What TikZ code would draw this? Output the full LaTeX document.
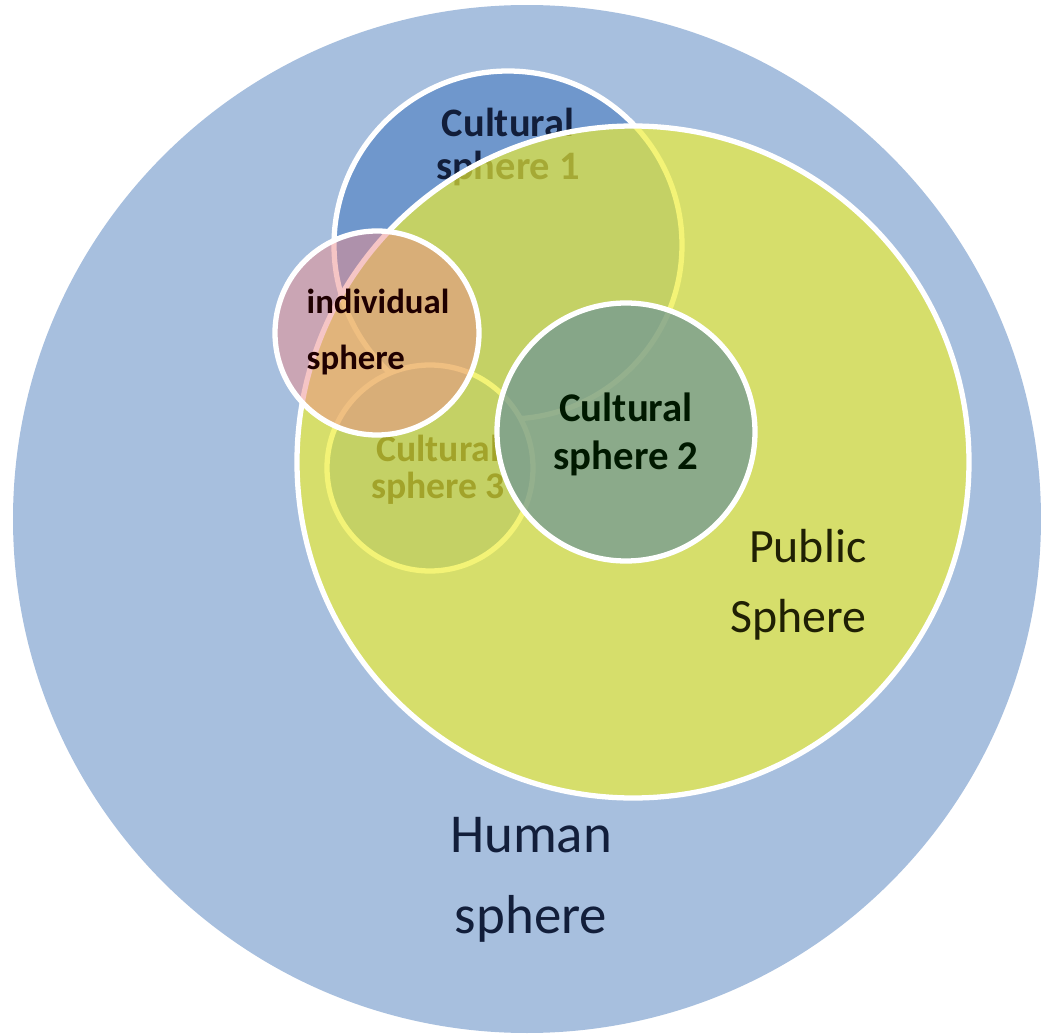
\documentclass[tikz,border=0pt]{standalone}
\usepackage{fontspec}
\setmainfont{Carlito}
\definecolor{humanblue}{RGB}{167,191,222}
\definecolor{cultblue}{RGB}{111,151,204}
\definecolor{publicyellow}{RGB}{238,238,51}
\definecolor{indivsalmon}{RGB}{237,140,140}
\definecolor{cultteal}{RGB}{108,148,152}
\definecolor{navytext}{RGB}{18,30,58}
\definecolor{darktext}{RGB}{8,12,24}
\definecolor{olivetext}{RGB}{32,32,4}
\tikzset{
  sphere/.style={draw=white, line width=1.5pt},
  lbl/.style={inner sep=0pt, align=center},
}

\begin{document}
\begin{tikzpicture}[x=0.01cm, y=-0.01cm]
	%%%%% START %%%%%
	\useasboundingbox (0,0) rectangle (1041,1036);

	% human sphere
	\draw[fill=humanblue, draw=none] (527,519) circle (514);

	% cultural spheres under the public one
	\draw[sphere, fill=cultblue] (508,245) circle (174);
	\node[lbl, text=navytext, font={\bfseries\fontsize{11.5}{12.2}\selectfont}] (cultone) at (508,147) {Cultural\\sphere 1};

	\draw[sphere, fill=cultblue] (430,468) circle (103);
	\node[lbl, text=darktext, font={\bfseries\fontsize{10.7}{10.5}\selectfont}] (cultthree) at (438,470) {Cultural\\sphere 3};

	% public sphere
	\draw[sphere, fill=publicyellow, fill opacity=0.67] (633,462) circle (336);

	% individual sphere
	\draw[sphere, fill=indivsalmon, fill opacity=0.5] (377,333) circle (102);
	\node[lbl, align=left, anchor=west, text=black!88!red, font={\bfseries\fontsize{9.9}{15.9}\selectfont}] (indiv) at (306,332) {individual\\sphere};

	% cultural sphere 2
	\draw[sphere, fill=cultteal, fill opacity=0.7] (626,432) circle (129);
	\node[lbl, text=black!90!green, font={\bfseries\fontsize{11.6}{13.7}\selectfont}] (culttwo) at (626,434) {Cultural\\sphere 2};

	\node[lbl, align=right, anchor=east, text=olivetext, font={\fontsize{13.6}{19.9}\selectfont}] (public) at (867,585) {Public\\Sphere};
	\node[lbl, text=navytext, font={\fontsize{15.6}{23}\selectfont}] (human) at (531,880) {Human\\sphere};
	%%%%% END %%%%%
\end{tikzpicture}
\end{document}
